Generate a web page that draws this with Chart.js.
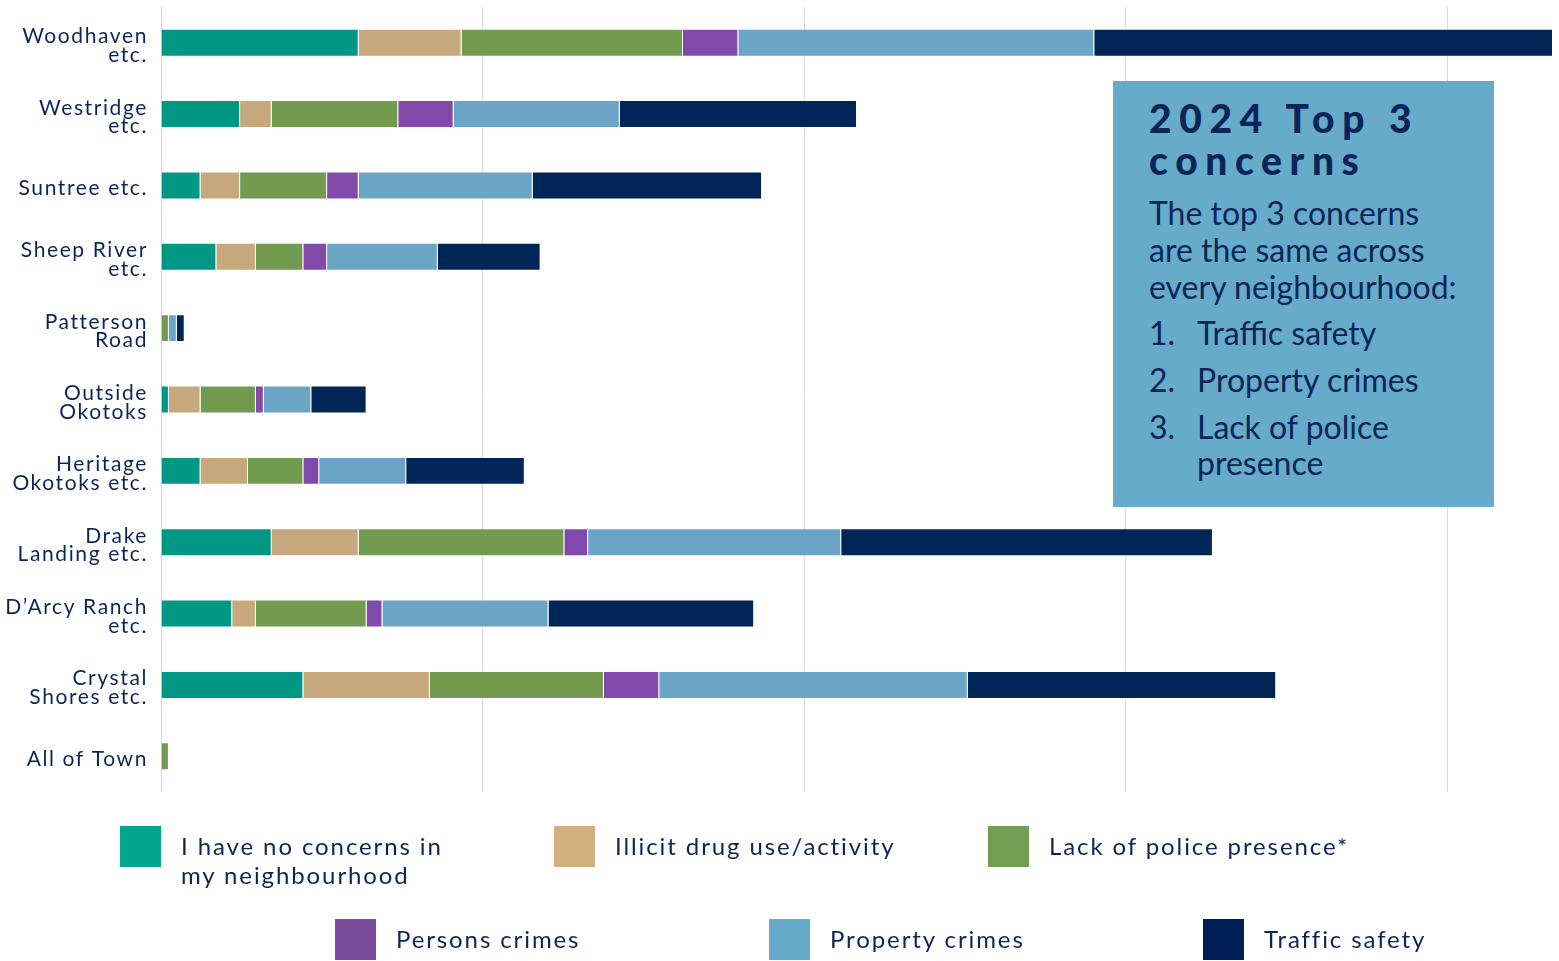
<!DOCTYPE html>
<html>
<head>
<meta charset="utf-8">
<script src="https://cdn.jsdelivr.net/npm/chart.js@4.4.1/dist/chart.umd.min.js"></script>
<style>
  html, body { margin: 0; padding: 0; background: #fff; }
  body { width: 1559px; height: 961px; position: relative; overflow: hidden; font-family: Lato, 'Open Sans', sans-serif; color: #0b2559; }
  #chartBox { position: absolute; left: 0; top: 0; width: 1559px; height: 961px; }
  #note { position: absolute; left: 1113px; top: 81px; width: 345px; height: 410px; padding: 16px 0 0 36px; background: #67abcb; color: #0b2559; }
  #note h2 { margin: 0; font-size: 39px; line-height: 42px; font-weight: 900; letter-spacing: 7.6px; }
  #note p { margin: 13px 0 0 0; font-size: 32px; line-height: 37px; white-space: nowrap; }
  #note ol { margin: 10px 0 0 0; padding: 0; list-style: none; font-size: 32px; line-height: 36px; }
  #note li { display: flex; margin-bottom: 11px; }
  #note li span.n { width: 48px; flex: none; }
  .legendRow { position: absolute; display: flex; }
  .legendItem { display: flex; align-items: flex-start; width: 434px; }
  .legendItem .sw { width: 41px; height: 41px; flex: none; }
  .legendItem .tx { margin: 5px 0 0 20px; font-size: 24px; line-height: 29px; letter-spacing: 1.9px; white-space: nowrap; color: #0b2559; }
  .legendItem .tx.wrap { white-space: normal; width: 275px; }
</style>
</head>
<body>
<div id="chartBox"><canvas id="chart"></canvas></div>
<div id="note">
  <h2>2024 Top 3 concerns</h2>
  <p>The top 3 concerns<br>are the same across<br>every neighbourhood:</p>
  <ol>
    <li><span class="n">1.</span><span>Traffic safety</span></li>
    <li><span class="n">2.</span><span>Property crimes</span></li>
    <li><span class="n">3.</span><span>Lack of police presence</span></li>
  </ol>
</div>
<div class="legendRow" id="legendRow1" style="left:120px; top:826px;"></div>
<div class="legendRow" id="legendRow2" style="left:335px; top:919px;"></div>
<script>
const neighbourhoods = [
  ['Woodhaven', 'etc.'],
  ['Westridge', 'etc.'],
  'Suntree etc.',
  ['Sheep River', 'etc.'],
  ['Patterson', 'Road'],
  ['Outside', 'Okotoks'],
  ['Heritage', 'Okotoks etc.'],
  ['Drake', 'Landing etc.'],
  ['D\u2019Arcy Ranch', 'etc.'],
  ['Crystal', 'Shores etc.'],
  'All of Town',
];

const seriesNames = [
  'I have no concerns in my neighbourhood',
  'Illicit drug use/activity',
  'Lack of police presence*',
  'Persons crimes',
  'Property crimes',
  'Traffic safety',
];

const noConcerns = [25, 10, 5, 7, 0, 1, 5, 14, 9, 18, 0];
const illicitDrugs = [13, 4, 5, 5, 0, 4, 6, 11, 3, 16, 0];
const lackOfPolice = [28, 16, 11, 6, 1, 7, 7, 26, 14, 22, 1];
const personsCrimes = [7, 7, 4, 3, 0, 1, 2, 3, 2, 7, 0];
const propertyCrimes = [45, 21, 22, 14, 1, 6, 11, 32, 21, 39, 0];
const trafficSafety = [58, 30, 29, 13, 1, 7, 15, 47, 26, 39, 0];

const gridTicks = [0, 40.65, 81.3, 121.95, 162.6];

const colores = ['#009885', '#c6a87c', '#729b50', '#8049ab', '#6ba5c6', '#002658'];
const legendColors = ['#00a58e', '#d0b07c', '#729f52', '#7c4c9c', '#67abcb', '#001f56'];
const valores = [noConcerns, illicitDrugs, lackOfPolice, personsCrimes, propertyCrimes, trafficSafety];

const datasets = seriesNames.map((name, i) => ({
  label: name,
  data: valores[i],
  backgroundColor: colores[i],
  borderColor: 'rgba(255,255,255,0.35)',
  borderWidth: 1,
  categoryPercentage: 1,
  barPercentage: 0.392,
}));

// espaciado de letras en las etiquetas del eje
const letterSpacingPlugin = {
  id: 'letterSpacing',
  beforeDraw(chart) {
    chart.ctx.letterSpacing = '1.6px';
  },
};

const ctx = document.getElementById('chart').getContext('2d');
const chart = new Chart(ctx, {
  type: 'bar',
  data: { labels: neighbourhoods, datasets },
  plugins: [letterSpacingPlugin],
  options: {
    indexAxis: 'y',
    responsive: true,
    maintainAspectRatio: false,
    animation: false,
    layout: { padding: { top: 7, bottom: 169, right: 6, left: 0 } },
    plugins: {
      legend: { display: false },
      tooltip: { enabled: false },
    },
    scales: {
      x: {
        stacked: true,
        min: 0,
        max: 176,
        ticks: { display: false },
        grid: { color: '#dadada', lineWidth: 1, drawTicks: false },
        border: { display: false },
        afterBuildTicks: (scale) => {
          scale.ticks = gridTicks.map((v) => ({ value: v }));
        },
      },
      y: {
        stacked: true,
        grid: { display: false, drawTicks: false },
        border: { display: false },
        ticks: {
          color: '#0b2559',
          padding: 13,
          labelOffset: 3,
          font: { family: 'Lato', size: 21, lineHeight: 0.88 },
        },
        afterFit: (scale) => {
          scale.width = 161;
          scale.paddingTop = 0;
          scale.paddingBottom = 0;
        },
      },
    },
  },
});

// leyenda en html, dos filas de tres
chart.data.datasets.forEach((ds, i) => {
  const row = document.getElementById(i < 3 ? 'legendRow1' : 'legendRow2');
  const item = document.createElement('div');
  item.className = 'legendItem';
  const cls = ds.label.length > 30 ? 'tx wrap' : 'tx';
  item.innerHTML = `<div class="sw" style="background:${legendColors[i]}"></div><div class="${cls}">${ds.label}</div>`;
  row.appendChild(item);
});
</script>
</body>
</html>
